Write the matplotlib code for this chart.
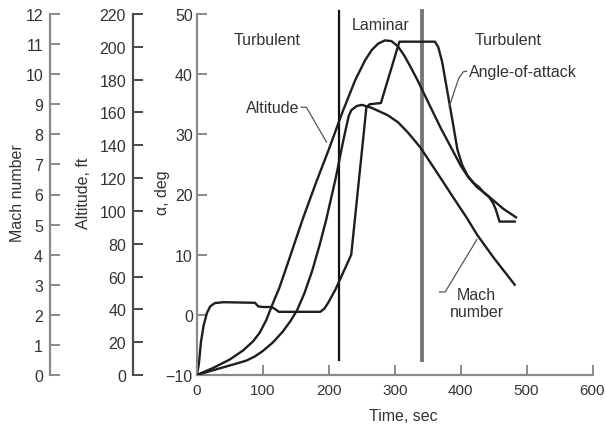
import matplotlib
matplotlib.use("Agg")
import matplotlib.pyplot as plt

plt.rcParams['font.family'] = ['Liberation Sans', 'DejaVu Sans']

# ---- data ----
# Altitude (thousand ft) vs time (sec)
alt_time = [0, 10, 25, 50, 70, 85, 95, 105, 115, 125, 140, 160, 180, 200, 220, 240,
            255, 265, 275, 285, 295, 305, 315, 325, 335, 350, 370, 387, 400, 412,
            425, 437, 450, 465, 484]
alt_vals = [0, 1.8, 4.4, 9.5, 15.0, 20.5, 25.7, 33.4, 43.6, 53.2, 70.8, 94.6, 116.6,
            137.5, 159.5, 179.7, 191.8, 198.0, 202.0, 203.9, 203.5, 200.2, 194.3, 187.0,
            179.3, 166.8, 150.3, 137.5, 127.6, 120.3, 114.4, 110.7, 106.3, 101.2, 96.1]

# Mach number vs time
mach_time = [0, 12, 47, 60, 75, 88, 100, 115, 130, 142, 152, 163, 175, 186, 196, 210,
             222, 230, 234, 242, 250, 265, 289, 305, 320, 339, 365, 390, 410, 425, 450, 482]
mach_vals = [0, 0.08, 0.30, 0.38, 0.48, 0.62, 0.80, 1.08, 1.44, 1.80, 2.16, 2.72, 3.48,
             4.32, 5.16, 6.5, 7.8, 8.6, 8.8, 8.94, 8.98, 8.88, 8.64, 8.4, 8.06, 7.56, 6.7,
             5.86, 5.2, 4.66, 3.9, 3.0]

# Angle of attack (deg) vs time
aoa_time = [0, 3, 6, 10, 15, 20, 27, 40, 88, 93, 100, 113, 118, 124, 187, 193, 199, 210,
            234, 257, 262, 279, 307, 361, 366, 372, 380, 388, 395, 402, 410, 420, 428,
            436, 443, 449, 453, 459, 482]
aoa_vals = [-10, -8, -4.5, -1.8, 0.3, 1.4, 1.95, 2.1, 2.0, 1.4, 1.3, 1.3, 1.0, 0.5, 0.5,
            1.0, 2.0, 4.2, 10, 34.5, 35, 35.2, 45.4, 45.4, 44.5, 42, 37, 32, 27.5, 25,
            23.2, 21.9, 21.2, 20.2, 19.6, 18.6, 17.6, 15.5, 15.5]

# Boundary-layer transition times (sec)
transition_times = [215, 342]

x_ticks = [0, 100, 200, 300, 400, 500, 600]
aoa_ticks = [-10, 0, 10, 20, 30, 40, 50]
alt_ticks = list(range(0, 221, 20))
mach_ticks = list(range(0, 13))

# ---- styling ----
FS = 11.5
TXT = '#333333'
LINE = '#1e1e1e'
W, H = 605, 427

fig = plt.figure(figsize=(W / 100, H / 100), dpi=100)
ax = fig.add_axes([197 / W, 1 - 376 / H, 395.5 / W, 361 / H])
ax.set_xlim(0, 600)
ax.set_ylim(-10, 50)
for s in ['top', 'right']:
    ax.spines[s].set_visible(False)
for s in ['left', 'bottom']:
    ax.spines[s].set_color('#8a8a8a')
    ax.spines[s].set_linewidth(1.6)
ax.set_xticks(x_ticks)
ax.set_yticks(aoa_ticks)
ax.tick_params(axis='both', direction='in', length=7, width=1.4, color='#8a8a8a',
               labelsize=FS, labelcolor=TXT)
ax.tick_params(axis='y', pad=3)
ax.tick_params(axis='x', pad=6, labelsize=11)


def side_axis(pos, ylim, ticks, spine_color):
    a = ax.twinx()
    a.set_ylim(*ylim)
    for s in ['top', 'right', 'bottom']:
        a.spines[s].set_visible(False)
    a.spines['left'].set_visible(True)
    a.spines['left'].set_position(('axes', pos))
    a.spines['left'].set_color(spine_color)
    a.spines['left'].set_linewidth(1.6)
    a.yaxis.set_ticks_position('left')
    a.yaxis.set_label_position('left')
    a.set_yticks(ticks)
    a.tick_params(axis='y', direction='in', length=7, width=1.4, color=spine_color,
                  labelsize=FS, labelcolor=TXT, pad=5)
    return a


ax_alt = side_axis((133 - 197) / 395.5, (0, 220), alt_ticks, '#4a4a4a')
ax_m = side_axis((50 - 197) / 395.5, (0, 12), mach_ticks, '#8a8a8a')

# transition lines
ax.plot([transition_times[0]] * 2, [-7.5, 50.5], color='#111111', lw=1.6, clip_on=False)
ax.plot([transition_times[1]] * 2, [-7.5, 50.5], color='#777777', lw=2.8, clip_on=False)

# curves
ax_alt.plot(alt_time, alt_vals, color=LINE, lw=1.7, solid_joinstyle='round')
ax_m.plot(mach_time, mach_vals, color=LINE, lw=1.7, solid_joinstyle='round')
ax.plot(aoa_time, aoa_vals, color=LINE, lw=1.7, solid_joinstyle='round')

# region labels
ax.text(107, 45.8, 'Turbulent', ha='center', va='center', fontsize=FS, color=TXT)
ax.text(279, 48.3, 'Laminar', ha='center', va='center', fontsize=FS, color=TXT)
ax.text(472, 45.8, 'Turbulent', ha='center', va='center', fontsize=FS, color=TXT)

# curve labels with leaders
LEAD = '#555555'
ax.text(412, 40.5, 'Angle-of-attack', ha='left', va='center', fontsize=FS, color=TXT)
ax.plot([409, 404, 397, 389, 382.5], [40.5, 40.4, 39.3, 36.7, 34.5], color=LEAD, lw=0.9)

ax.text(155, 34.5, 'Altitude', ha='right', va='center', fontsize=FS, color=TXT)
ax.plot([158, 166, 196.5], [34.5, 34.5, 28.7], color=LEAD, lw=0.9)

ax.text(424, 2.0, 'Mach\nnumber', ha='center', va='center', fontsize=FS, color=TXT,
        linespacing=1.15)
ax.plot([368, 376.5, 424.5], [3.8, 3.8, 12.5], color=LEAD, lw=0.9)

# axis titles
fig.text(18 / W, 1 - 193 / H, 'Mach number', rotation=90, ha='center', va='center',
         fontsize=FS, color=TXT)
fig.text(83 / W, 1 - 193 / H, 'Altitude, ft', rotation=90, ha='center', va='center',
         fontsize=FS, color=TXT)
fig.text(162 / W, 1 - 193 / H, 'α, deg', rotation=90, ha='center', va='center',
         fontsize=FS, color=TXT)
fig.text(403 / W, 1 - 417 / H, 'Time, sec', ha='center', va='center',
         fontsize=FS, color=TXT)

fig.savefig('out.png', dpi=100)
